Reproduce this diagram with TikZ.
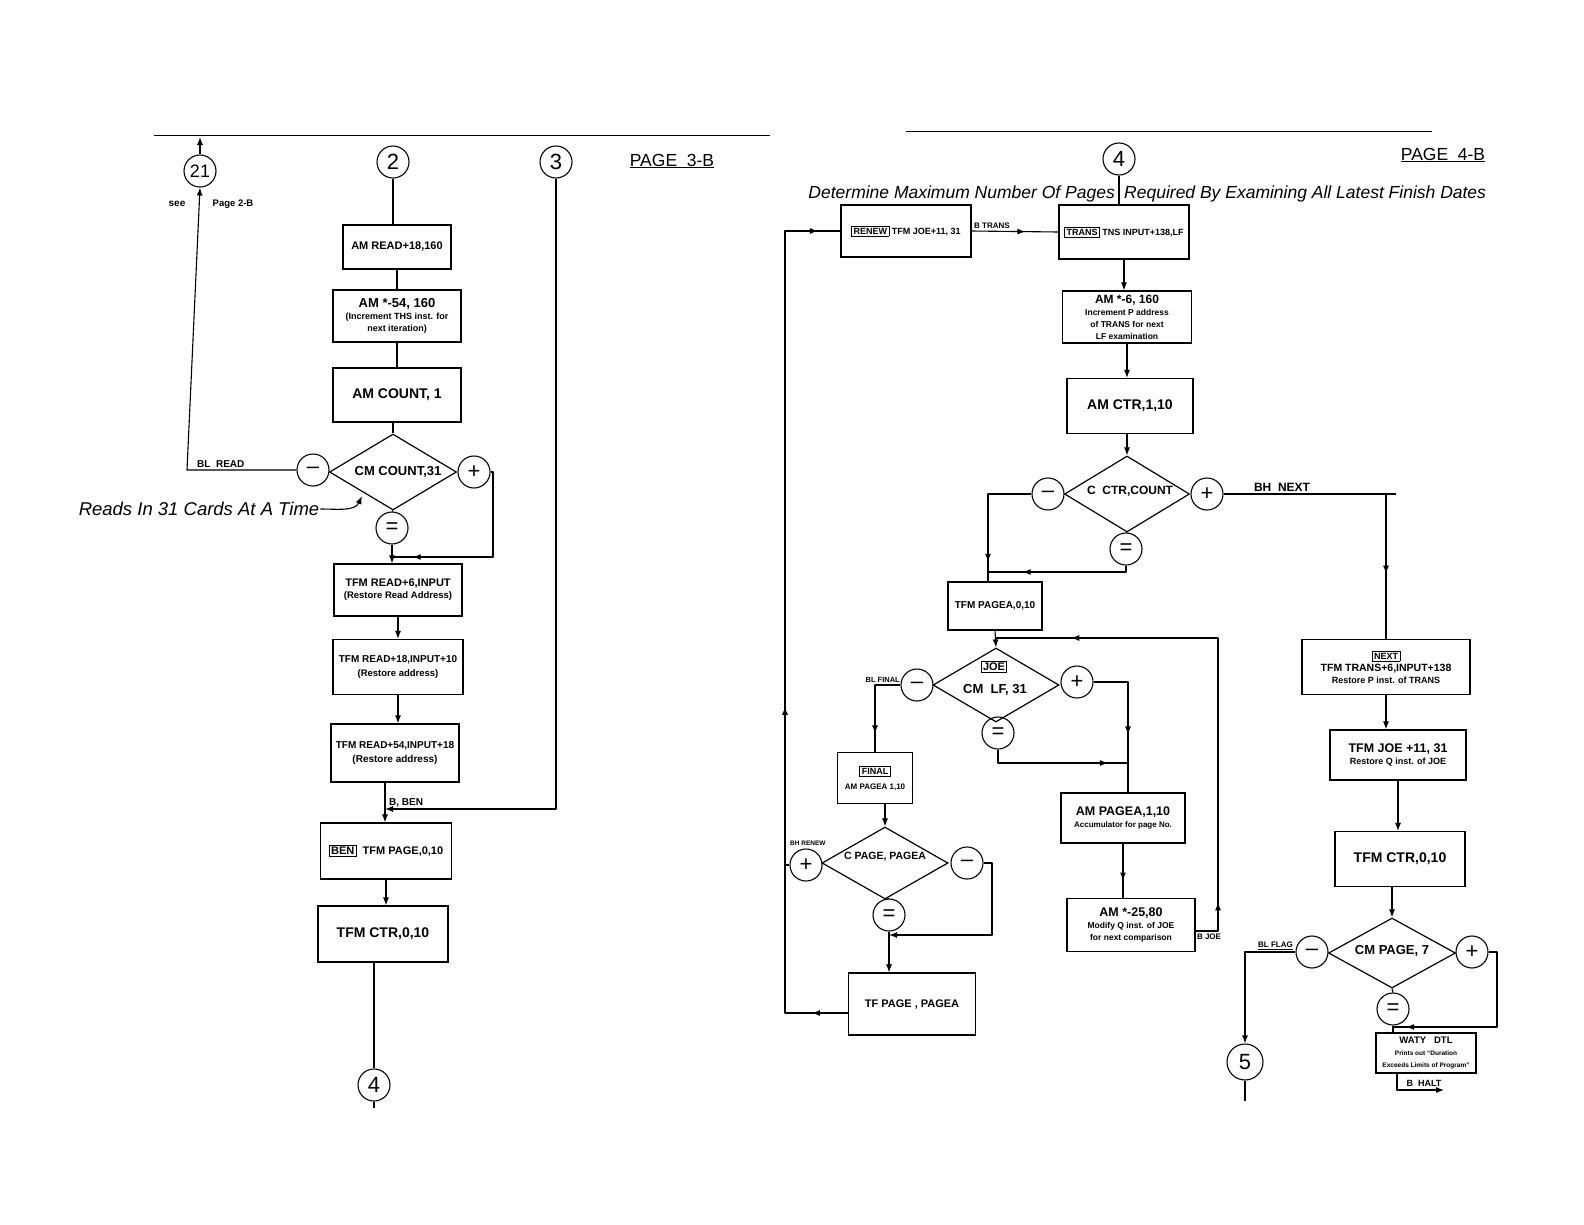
\documentclass[tikz,border=0pt]{standalone}
\usepackage{fontspec}
\setmainfont{Liberation Sans}
\usetikzlibrary{shapes.geometric,arrows.meta,decorations.markings}
\setlength{\fboxrule}{0.8pt}
\setlength{\fboxsep}{1.5pt}
\newcommand\sz[1]{\fontsize{#1}{\fpeval{1.15*#1}}\selectfont}
\begin{document}
\begin{tikzpicture}[x=1pt,y=-1pt,>={Latex[length=8pt,width=6pt]},
  ln/.style={line width=1.1pt,line join=round},
  box/.style={draw,line width=1.2pt,align=center,inner sep=2pt,font=\bfseries},
  conn/.style={draw,circle,line width=1.1pt,minimum size=32pt,inner sep=0pt,font={\sz{22}}},
  dia/.style={draw,diamond,line width=1.2pt,inner sep=0pt},
  lbl/.style={inner sep=1pt,font=\bfseries},
  tag/.style={draw,line width=0.8pt,inner sep=1.5pt,font=\bfseries},
  mid/.style={postaction={decorate},decoration={markings,mark=at position #1 with {\arrow{>}}}},
  rule/.style={line width=0.9pt}]
\useasboundingbox (0,0) rectangle (1584,1224);
\fill[white] (0,0) rectangle (1584,1224);

% ================= LEFT PAGE (3-B) =================
\coordinate (r1a) at (154,135); \coordinate (r1b) at (770,135);
\draw[rule] (r1a) -- (r1b);

\node[conn,font={\sz{18}}] (c21) at (200,171) {21};
\node[conn] (c2) at (393,162) {2};
\node[conn] (c3) at (556,162) {3};
\coordinate (t21) at (200,137);
\draw[ln,->] (c21.north) -- (t21);
\node[lbl,font={\sz{10}\bfseries}] (see) at (177,204) {see};
\node[lbl,font={\sz{9.5}\bfseries}] (pg2b) at (233,204) {Page 2-B};
\node[lbl,font={\sz{17.5}}] (pg3) at (672,161) {\underline{PAGE\ \ 3-B}};

\node[box,minimum width=108pt,minimum height=44pt] (b1) at (397,247) {\sz{11}AM READ+18,160};
\node[box,minimum width=128pt,minimum height=52pt] (b2) at (397,316)
  {{\sz{13}AM *-54, 160}\\{\sz{9}(Increment THS inst. for}\\{\sz{9}next iteration)}};
\node[box,minimum width=128pt,minimum height=54pt] (b3) at (397,395) {\sz{14}AM COUNT, 1};
\node[dia,minimum width=127pt,minimum height=76pt] (d1) at (393,472) {};
\node[lbl,font={\sz{13}\bfseries}] (d1t) at (398,472) {CM COUNT,31};
\node[conn] (m1) at (313,470) {\textendash};
\node[conn] (p1) at (474,472) {+};
\node[conn] (e1) at (392,528) {=};

\node[box,minimum width=128pt,minimum height=52pt] (b4) at (398,590)
  {{\sz{11}TFM READ+6,INPUT}\\{\sz{9.5}(Restore Read Address)}};
\node[box,minimum width=130pt,minimum height=55pt] (b5) at (398,667)
  {{\sz{10}TFM READ+18,INPUT+10}\\[2pt]{\sz{9.5}(Restore address)}};
\node[box,minimum width=128pt,minimum height=58pt] (b6) at (395,753)
  {{\sz{10}TFM READ+54,INPUT+18}\\[2pt]{\sz{10}(Restore address)}};
\node[box,minimum width=131pt,minimum height=56pt] (b7) at (386,851)
  {\sz{11}\fbox{BEN}\ \ TFM PAGE,0,10};
\node[box,minimum width=130pt,minimum height=56pt] (b8) at (383,934) {\sz{14}TFM CTR,0,10};
\node[conn] (c4L) at (374,1085) {4};

\node[lbl,font={\sz{18.5}\itshape}] (reads) at (199,509) {Reads In 31 Cards At A Time};
\coordinate (readtip) at (362,496);
\draw[ln,->] (reads.east) to[out=0,in=-115] (readtip);

% connectors left
\coordinate (bl) at (187,470);
\draw[ln,->] (m1.west) -- (bl) -- (c21.south);
\node[lbl,font={\sz{10}\bfseries},anchor=south west] (blread) at (196,469) {BL\ \ READ};
\draw[ln] (c2.south) -- (c2.south |- b1.north);
\draw[ln] (b1.south) -- (b1.south |- b2.north);
\draw[ln] (b2.south) -- (b2.south |- b3.north);
\draw[ln] (d1.north |- b3.south) -- (d1.north);
\draw[ln] (d1.south) -- (e1.north);
\coordinate (j1) at (392,557);
\coordinate (j1r) at (493,557);
\draw[ln,mid=0.89] (p1.east) -- (p1.east -| j1r) -- (j1r) -- (j1);
\draw[ln,->] (e1.south) -- (e1.south |- b4.north);
\draw[ln,->] (b4.south) -- (b4.south |- b5.north);
\draw[ln,->] (b5.south) -- (b5.south |- b6.north);
\coordinate (j2) at (385,809);
\draw[ln,->] (c3.south) |- (j2);
\node[lbl,font={\sz{10}\bfseries},anchor=south west] (bben) at (388,808) {B, BEN};
\draw[ln,->] (b6.south -| j2) -- (b7.north -| j2);
\draw[ln,->] (b7.south) -- (b7.south |- b8.north);
\draw[ln] (c4L.north |- b8.south) -- (c4L.north);
\coordinate (c4tail) at (374,1108);
\draw[ln] (c4L.south) -- (c4tail);

% ================= RIGHT PAGE (4-B) =================
\coordinate (r2a) at (906,131); \coordinate (r2b) at (1432,131);
\draw[rule] (r2a) -- (r2b);
\node[conn] (c4R) at (1119,159) {4};
\node[lbl,font={\sz{17.5}}] (pg4) at (1443,155) {\underline{PAGE\ \ 4-B}};
\node[lbl,font={\sz{17.5}\itshape},anchor=east] (hdA) at (1116,194) {Determine Maximum Number Of Pages};
\node[lbl,font={\sz{17.5}\itshape},anchor=west] (hdB) at (1123,194) {Required By Examining All Latest Finish Dates};

\node[box,minimum width=130pt,minimum height=52pt] (renew) at (906,231)
  {\sz{9}\fbox{RENEW}\ TFM JOE+11, 31};
\node[box,minimum width=130pt,minimum height=54pt] (trans) at (1124,232)
  {\sz{9}\fbox{TRANS}\ TNS INPUT+138,LF};
\node[box,minimum width=129pt,minimum height=52pt] (amx6) at (1127,317)
  {{\sz{12}AM *-6, 160}\\{\sz{8.5}Increment P address}\\{\sz{8.5}of TRANS for next}\\{\sz{8.5}LF examination}};
\node[box,minimum width=126pt,minimum height=55pt] (ctr1) at (1130,406) {\sz{14}AM CTR,1,10};
\node[dia,minimum width=125pt,minimum height=76pt] (d2) at (1127,494) {};
\node[lbl,font={\sz{12}\bfseries}] (d2t) at (1130,491) {C\ \ CTR,COUNT};
\node[conn] (m2) at (1048,494) {\textendash};
\node[conn] (p2) at (1207,494) {+};
\node[conn] (e2) at (1126,549) {=};

\node[box,minimum width=94pt,minimum height=48pt] (pagea0) at (995,606) {\sz{10}TFM PAGEA,0,10};
\node[dia,minimum width=126pt,minimum height=74pt] (d3) at (996,685) {};
\node[tag,font={\sz{11}\bfseries}] (joetag) at (994,667) {JOE};
\node[lbl,font={\sz{13}\bfseries}] (d3t) at (995,690) {CM\ \ LF, 31};
\node[conn] (m3) at (917,685) {\textendash};
\node[conn] (p3) at (1077,682) {+};
\node[conn] (e3) at (998,733) {=};

\node[box,minimum width=75pt,minimum height=51pt] (final) at (875,778)
  {\fbox{\sz{9}FINAL}\\[3pt]{\sz{8}AM PAGEA 1,10}};
\node[dia,minimum width=126pt,minimum height=72pt] (d4) at (885,863) {};
\node[lbl,font={\sz{10.5}\bfseries}] (d4t) at (885,857) {C PAGE, PAGEA};
\node[conn] (p4) at (806,865) {+};
\node[conn] (m4) at (967,863) {\textendash};
\node[conn] (e4) at (889,915) {=};
\node[box,minimum width=127pt,minimum height=62pt] (tfpage) at (912,1004) {\sz{11}TF PAGE , PAGEA};

\node[box,minimum width=124pt,minimum height=50pt] (ampagea) at (1123,818)
  {{\sz{12.5}AM PAGEA,1,10}\\{\sz{8}Accumulator for page No.}};
\node[box,minimum width=128pt,minimum height=53pt] (am25) at (1131,925)
  {{\sz{12.5}AM *-25,80}\\{\sz{8.5}Modify Q inst. of JOE}\\{\sz{8.5}for next comparison}};

\node[box,minimum width=168pt,minimum height=55pt] (next) at (1386,667)
  {\fbox{\sz{9}NEXT}\\{\sz{10.5}TFM TRANS+6,INPUT+138}\\{\sz{9}Restore P inst. of TRANS}};
\node[box,minimum width=136pt,minimum height=50pt] (tfmjoe) at (1398,755)
  {{\sz{12.5}TFM JOE +11, 31}\\{\sz{9}Restore Q inst. of JOE}};
\node[box,minimum width=130pt,minimum height=55pt] (ctr0) at (1400,859) {\sz{14}TFM CTR,0,10};
\node[dia,minimum width=127pt,minimum height=70pt] (d5) at (1392,953) {};
\node[lbl,font={\sz{13}\bfseries}] (d5t) at (1392,951) {CM PAGE, 7};
\node[conn] (m5) at (1312,952) {\textendash};
\node[conn] (p5) at (1472,952) {+};
\node[conn] (e5) at (1393,1009) {=};
\node[box,minimum width=100pt,minimum height=40pt,inner sep=1pt] (waty) at (1426,1053)
  {{\sz{9.5}WATY\ \ \ DTL}\\{\sz{6.5}Prints out ``Duration}\\{\sz{6.5}Exceeds Limits of Program''}};
\node[conn,minimum size=36pt] (c5) at (1245,1062) {5};

% connectors right
\draw[ln] (c4R.south) -- (c4R.south |- trans.north);
\draw[ln,mid=0.62] (renew.east) -- (trans.west);
\node[lbl,font={\sz{8}\bfseries},anchor=south west] (btrans) at (973,230) {B TRANS};
\draw[ln,->] (trans.south) -- (trans.south |- amx6.north);
\draw[ln,->] (amx6.south) -- (amx6.south |- ctr1.north);
\draw[ln,->] (d2.north |- ctr1.south) -- (d2.north);
\draw[ln] (d2.south) -- (e2.north);
\coordinate (k1) at (988,494);
\draw[ln,mid=0.85] (m2.west) -- (k1) -- (k1 |- pagea0.north);
\coordinate (k2) at (988,572);
\draw[ln,mid=0.76] (e2.south) |- (k2);
\coordinate (k3) at (1396,494);
\draw[ln] (p2.east) -- (k3);
\node[lbl,font={\sz{12}\bfseries},anchor=south] (bhnext) at (1282,493) {BH\ \ NEXT};
\coordinate (k4) at (1386,494);
\draw[ln,mid=0.55] (k4) -- (k4 |- next.north);
\draw[ln,->] (next.south) -- (next.south |- tfmjoe.north);
\draw[ln,->] (tfmjoe.south) -- (tfmjoe.south |- ctr0.north);
\draw[ln,->] (d5.north |- ctr0.south) -- (d5.north);
\draw[ln] (d5.south) -- (e5.north);
\coordinate (k5) at (1245,952);
\draw[ln,->] (m5.west) -- (k5) -- (c5.north);
\node[lbl,font={\sz{8}\bfseries},anchor=south east] (blflag) at (1294,951) {\underline{BL FLAG}};
\draw[ln] (c5.south) -- ++(0,20);
\coordinate (k6) at (1497,1027);
\draw[ln,mid=0.93] (p5.east) -| (k6) -- (e5.south |- k6);
\draw[ln] (e5.south) -- (e5.south |- waty.north);
\coordinate (k7) at (1397,1090);
\coordinate (halt) at (1444,1090);
\draw[ln,->] (waty.south -| k7) -- (k7) -- (halt);
\node[lbl,font={\sz{9}\bfseries},anchor=south] (bhalt) at (1424,1088) {B\ \ HALT};

% JOE loop
\draw[ln,->] (pagea0.south) -- (d3.north);
\coordinate (k8) at (1218,638);
\coordinate (k9) at (996,638);
\coordinate (k10) at (1218,931);
\draw[ln,postaction={decorate},decoration={markings,
   mark=at position 0.095 with {\arrow{>}},mark=at position 0.86 with {\arrow{>}}}]
   (am25.east |- k10) -- (k10) -- (k8) -- (k9);
\node[lbl,font={\sz{8}\bfseries},anchor=north] (bjoe) at (1209,933) {B JOE};
\coordinate (k11) at (875,685);
\draw[ln,mid=0.8] (m3.west) -- (k11) -- (k11 |- final.north);
\node[lbl,font={\sz{7.5}\bfseries},anchor=south east] (blfinal) at (901,684) {BL FINAL};
\coordinate (k12) at (1128,682);
\draw[ln,mid=0.6] (p3.east) -- (k12) -- (k12 |- ampagea.north);
\coordinate (k13) at (998,763);
\draw[ln,mid=0.86] (e3.south) -- (k13) -- (k12 |- k13);
\draw[ln,->] (d4.north |- final.south) -- (d4.north);
\draw[ln] (d4.south) -- (e4.north);
\coordinate (k14) at (992,935);
\draw[ln,->] (m4.east) -| (k14) -- (e4.south |- k14);
\draw[ln,->] (e4.south) -- (e4.south |- tfpage.north);
\draw[ln,mid=0.68] (ampagea.south) -- (ampagea.south |- am25.north);
\coordinate (k15) at (785,1013);
\coordinate (k16) at (785,231);
\draw[ln,postaction={decorate},decoration={markings,
   mark=at position 0.04 with {\arrow{>}},mark=at position 0.41 with {\arrow{>}},
   mark=at position 0.975 with {\arrow{>}}}]
   (tfpage.west |- k15) -- (k15) -- (k16) -- (renew.west);
\draw[ln] (p4.west) -- (p4.west -| k15);
\node[lbl,font={\sz{6.5}\bfseries},anchor=west] (bhrenew) at (789,843) {BH RENEW};
\end{tikzpicture}
\end{document}
